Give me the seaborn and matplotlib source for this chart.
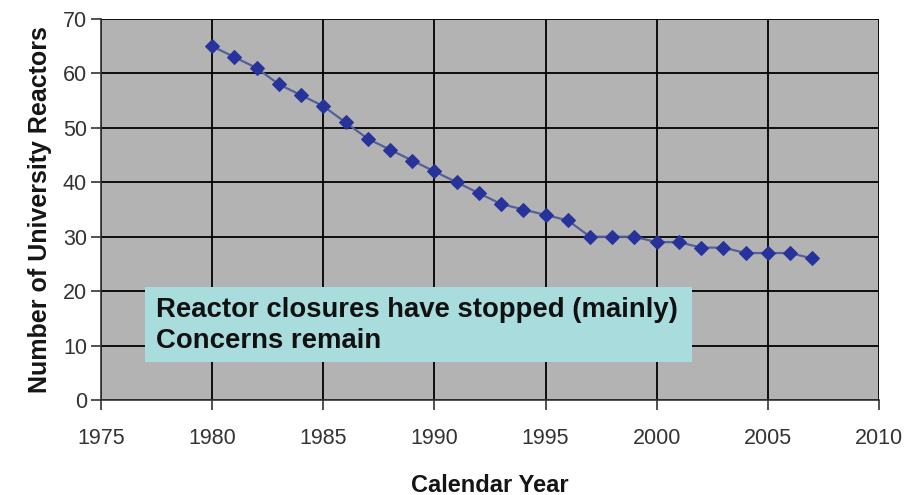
import matplotlib
matplotlib.use("Agg")
import matplotlib.pyplot as plt
import seaborn as sns
import pandas as pd
from matplotlib.patches import Rectangle

years = list(range(1980, 2008))
reactors = [65, 63, 61, 58, 56, 54, 51, 48, 46, 44, 42, 40, 38, 36, 35, 34, 33,
            30, 30, 30, 29, 29, 28, 28, 27, 27, 27, 26]
x_ticks = [1975, 1980, 1985, 1990, 1995, 2000, 2005, 2010]
y_ticks = [0, 10, 20, 30, 40, 50, 60, 70]
note_lines = ["Reactor closures have stopped (mainly)", "Concerns remain"]

df = pd.DataFrame({"year": years, "reactors": reactors})

sns.set_theme(style="ticks")
plt.rcParams["font.family"] = ["Liberation Sans", "DejaVu Sans"]

fig = plt.figure(figsize=(9.08, 4.95), dpi=100)
ax = fig.add_axes([101 / 908, 95 / 495, 778 / 908, 381 / 495])
ax.set_facecolor("#b3b3b3")

sns.lineplot(data=df, x="year", y="reactors", ax=ax, color="#55609a", linewidth=1.6,
             marker="D", markersize=7, markerfacecolor="#27339a",
             markeredgecolor="#27339a", zorder=3)

ax.set_xlim(1975, 2010)
ax.set_ylim(0, 70)
ax.set_xticks(x_ticks)
ax.set_yticks(y_ticks)
ax.grid(True, color="black", linewidth=1.3)
ax.set_axisbelow(True)

for side in ["top", "right"]:
    ax.spines[side].set_visible(False)
for side in ["left", "bottom"]:
    ax.spines[side].set_color("#333333")
    ax.spines[side].set_linewidth(1.2)

ax.tick_params(axis="both", labelsize=15.5, colors="#333333", length=7, width=1.2)
ax.tick_params(axis="x", pad=13)
ax.tick_params(axis="y", pad=3)

ax.set_xlabel("Calendar Year", fontsize=17, fontweight="bold", labelpad=18,
              color="#151515")
ax.set_ylabel("Number of University Reactors", fontsize=18, fontweight="bold",
              labelpad=8, color="#151515")

# annotation box
box = Rectangle((0.0566, 0.0997), 0.7035, 0.1975, transform=ax.transAxes,
                facecolor="#a9dcdc", edgecolor="none", zorder=4)
ax.add_patch(box)
ax.text(0.0705, 0.237, note_lines[0], transform=ax.transAxes, fontsize=19.8,
        fontweight="bold", color="#111111", va="center", ha="left", zorder=5)
ax.text(0.0705, 0.155, note_lines[1], transform=ax.transAxes, fontsize=19.8,
        fontweight="bold", color="#111111", va="center", ha="left", zorder=5)

fig.savefig("out.png", dpi=100, facecolor="white")
